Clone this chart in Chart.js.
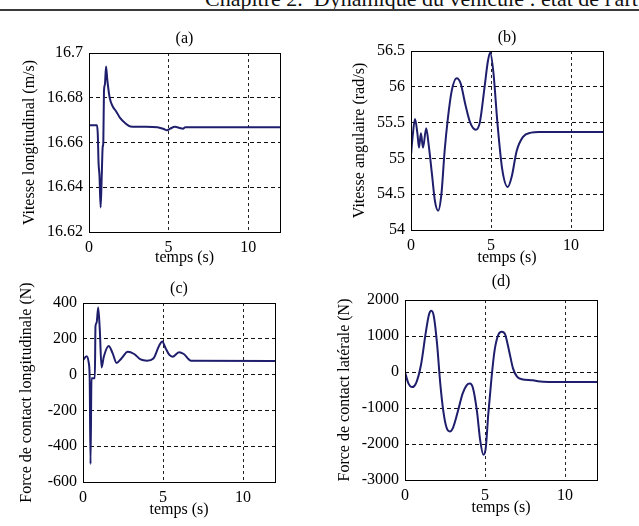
<!DOCTYPE html>
<html>
<head>
<meta charset="utf-8">
<title>Dynamique du véhicule</title>
<script src="https://cdn.jsdelivr.net/npm/chart.js@4.4.1/dist/chart.umd.min.js"></script>
<style>
    html, body { margin: 0; padding: 0; background: #fff; }
    body { width: 639px; height: 526px; position: relative; overflow: hidden; }
    #header {
        position: absolute; left: 205px; top: -12px; white-space: nowrap;
        font-family: "Liberation Serif", "DejaVu Serif", serif; font-size: 22px; line-height: 22px; color: #111;
    }
    #rule { position: absolute; left: 0; top: 9px; width: 639px; height: 2px; background: #3a3a3a; }
    canvas { position: absolute; }
</style>
</head>
<body>
<div id="header">Chapitre 2.&nbsp; Dynamique du véhicule : état de l'art</div>
<div id="rule"></div>
<canvas id="chartA"></canvas>
<canvas id="chartB"></canvas>
<canvas id="chartC"></canvas>
<canvas id="chartD"></canvas>
<script>
// values
const xTicksMax = 12;

// (a) vitesse longitudinale
const timeA = [0, 0.5, 0.55, 0.6, 0.66, 0.73, 0.8, 0.86, 0.9, 0.94, 1.0, 1.07, 1.15, 1.3, 1.5, 1.7, 1.95, 2.3, 2.6, 3.5, 4.3, 4.7, 4.9, 5.1, 5.4, 5.7, 5.9, 6.05, 12];
const vitesseLong = [16.6677, 16.6677, 16.664, 16.651, 16.645, 16.631, 16.645, 16.658, 16.66, 16.683, 16.686, 16.694, 16.688, 16.68, 16.676, 16.674, 16.671, 16.6685, 16.6672, 16.667, 16.6668, 16.666, 16.6655, 16.6662, 16.667, 16.6665, 16.6662, 16.6668, 16.6668];

// (b) vitesse angulaire
const timeB = [0, 0.1, 0.25, 0.4, 0.5, 0.62, 0.75, 0.95, 1.1, 1.3, 1.5, 1.7, 1.9, 2.1, 2.3, 2.55, 2.85, 3.1, 3.4, 3.7, 4.05, 4.3, 4.6, 4.8, 4.95, 5.15, 5.4, 5.7, 6.05, 6.3, 6.6, 7.0, 7.5, 8, 12];
const vitesseAng = [55.05, 55.3, 55.55, 55.35, 55.15, 55.35, 55.15, 55.42, 55.2, 54.8, 54.4, 54.27, 54.5, 55.1, 55.55, 55.95, 56.12, 56.05, 55.75, 55.5, 55.4, 55.5, 56.0, 56.35, 56.48, 56.2, 55.5, 54.85, 54.6, 54.75, 55.1, 55.3, 55.36, 55.37, 55.37];

// (c) force de contact longitudinale
const timeC = [0, 0.22, 0.36, 0.42, 0.47, 0.53, 0.74, 0.78, 0.85, 0.95, 1.05, 1.16, 1.3, 1.6, 1.85, 2.1, 2.4, 2.8, 3.2, 3.6, 4.0, 4.4, 4.75, 4.95, 5.15, 5.4, 5.6, 6.0, 6.3, 6.75, 12];
const forceLong = [80, 102, 65, -26, -500, -20, -20, 270, 290, 375, 250, 40, 100, 160, 120, 65, 90, 128, 115, 85, 78, 90, 160, 185, 150, 110, 100, 125, 115, 78, 76];

// (d) force de contact latérale
const timeD = [0, 0.2, 0.45, 0.7, 1.0, 1.3, 1.5, 1.65, 1.8, 2.0, 2.2, 2.4, 2.6, 2.8, 3.0, 3.3, 3.6, 3.85, 4.05, 4.25, 4.5, 4.7, 4.9, 5.05, 5.2, 5.4, 5.6, 5.85, 6.05, 6.25, 6.5, 6.75, 7.0, 7.3, 8.0, 8.3, 9, 12];
const forceLat = [0, -300, -420, -300, 200, 1100, 1600, 1700, 1550, 800, -300, -1100, -1550, -1650, -1550, -1100, -600, -370, -320, -450, -1100, -1900, -2300, -2100, -1200, -200, 600, 1050, 1120, 1050, 600, 100, -130, -200, -230, -260, -280, -280];

const FONT = '"Liberation Serif", "DejaVu Serif", serif';
const LINE_COLOR = '#1e1e6c';

document.addEventListener('DOMContentLoaded', function() {
    makePanel('chartA', {
        title: '(a)', yLabel: 'Vitesse longitudinal (m/s)',
        times: timeA, values: vitesseLong,
        yMin: 16.62, yMax: 16.7, yStep: 0.02, decimals: 2,
        plot: { left: 89, right: 280, top: 53, bottom: 232 },
        titleY: 39, yTitleX: 30, xTitleY: 258
    });
    makePanel('chartB', {
        title: '(b)', yLabel: 'Vitesse angulaire (rad/s)',
        times: timeB, values: vitesseAng,
        yMin: 54, yMax: 56.5, yStep: 0.5, decimals: 1,
        plot: { left: 411, right: 603, top: 51, bottom: 230 },
        titleY: 38, yTitleX: 360, xTitleY: 258
    });
    makePanel('chartC', {
        title: '(c)', yLabel: 'Force de contact longitudinale (N)',
        times: timeC, values: forceLong,
        yMin: -600, yMax: 400, yStep: 200, decimals: 0,
        plot: { left: 83, right: 275, top: 303, bottom: 482 },
        titleY: 289, yTitleX: 27, xTitleY: 510
    });
    makePanel('chartD', {
        title: '(d)', yLabel: 'Force de contact latérale (N)',
        times: timeD, values: forceLat,
        yMin: -3000, yMax: 2000, yStep: 1000, decimals: 0,
        plot: { left: 405, right: 597, top: 300, bottom: 480 },
        titleY: 282, yTitleX: 345, xTitleY: 508
    });
});

/**
 * Solid box round the plot area (matlab style)
 */
const frameBox = {
    id: 'frameBox',
    afterDatasetsDraw(chart) {
        const a = chart.chartArea;
        const ctx = chart.ctx;
        ctx.save();
        ctx.strokeStyle = '#000';
        ctx.lineWidth = 1;
        ctx.strokeRect(Math.round(a.left) + 0.5, Math.round(a.top) + 0.5,
            Math.round(a.right - a.left), Math.round(a.bottom - a.top));
        ctx.restore();
    }
};

/**
 * Create one sub-plot, placing its canvas so the plot area lands where it is in the figure
 */
function makePanel(id, cfg) {
    const canvas = document.getElementById(id);
    const fontSize = 16;
    const half = fontSize * 1.2 / 2;

    const cx = cfg.yTitleX - 12;
    const cy = cfg.titleY - 12;
    const cw = cfg.plot.right + 10 - cx;
    const ch = cfg.xTitleY + 12 - cy;

    canvas.width = cw;
    canvas.height = ch;
    canvas.style.left = cx + 'px';
    canvas.style.top = cy + 'px';
    canvas.style.width = cw + 'px';
    canvas.style.height = ch + 'px';

    const yWidth = cfg.plot.left - cx;
    const xHeight = cy + ch - cfg.plot.bottom;

    const points = cfg.times.map((t, i) => ({ x: t, y: cfg.values[i] }));

    new Chart(canvas, {
        type: 'line',
        data: {
            datasets: [{
                data: points,
                borderColor: LINE_COLOR,
                borderWidth: 2,
                pointRadius: 0,
                fill: false,
                cubicInterpolationMode: 'monotone'
            }]
        },
        options: {
            responsive: false,
            animation: false,
            devicePixelRatio: 1,
            layout: { padding: { left: 0, top: 0, right: 10, bottom: 0 } },
            scales: {
                x: {
                    type: 'linear',
                    min: 0,
                    max: xTicksMax,
                    afterFit: function(scale) { scale.height = xHeight; },
                    ticks: {
                        stepSize: 5,
                        includeBounds: false,
                        padding: 6,
                        color: '#000',
                        font: { family: FONT, size: fontSize },
                        maxRotation: 0,
                        callback: v => String(v)
                    },
                    grid: { color: '#222', lineWidth: 1, drawTicks: false },
                    border: { display: false, dash: [3, 3] },
                    title: {
                        display: true,
                        text: 'temps (s)',
                        color: '#000',
                        font: { family: FONT, size: fontSize },
                        padding: { top: 0, bottom: 12 - half }
                    }
                },
                y: {
                    type: 'linear',
                    min: cfg.yMin,
                    max: cfg.yMax,
                    afterFit: function(scale) { scale.width = yWidth; },
                    ticks: {
                        stepSize: cfg.yStep,
                        padding: 6,
                        color: '#000',
                        font: { family: FONT, size: fontSize },
                        callback: v => String(+v.toFixed(cfg.decimals))
                    },
                    grid: { color: '#111', lineWidth: 1, drawTicks: false },
                    border: { display: false, dash: [4, 3] },
                    title: {
                        display: true,
                        text: cfg.yLabel,
                        color: '#000',
                        font: { family: FONT, size: fontSize },
                        padding: { top: 12 - half, bottom: 0 }
                    }
                }
            },
            plugins: {
                legend: { display: false },
                tooltip: { enabled: false },
                title: {
                    display: true,
                    text: cfg.title,
                    fullSize: false,
                    color: '#000',
                    font: { family: FONT, size: fontSize, weight: 'normal' },
                    padding: { top: 12 - half, bottom: cfg.plot.top - cfg.titleY - half }
                }
            }
        },
        plugins: [frameBox]
    });
}
</script>
</body>
</html>
